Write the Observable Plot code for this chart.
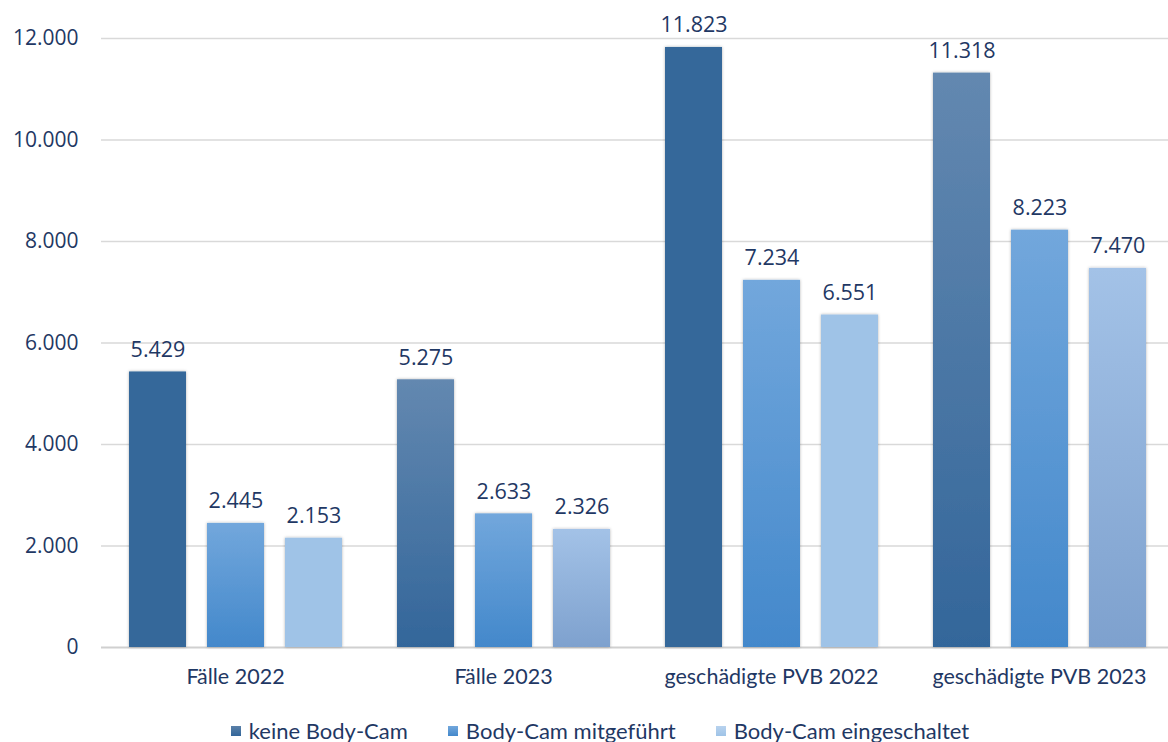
<!DOCTYPE html>
<html>
<head>
<meta charset="utf-8">
<script src="https://cdn.jsdelivr.net/npm/d3@7"></script>
<script src="https://cdn.jsdelivr.net/npm/@observablehq/plot@0.6"></script>
<style>
  html, body { margin: 0; padding: 0; background: #fff; overflow: hidden; }
  #chart { width: 1168px; }
  .legend { display: flex; justify-content: center; height: 42px; align-items: center; padding-top: 19px; box-sizing: border-box;
            font-family: Lato, sans-serif; font-size: 22px; color: #1F3864; margin-left: 32px; }
  .legend .item { display: flex; align-items: center; margin: 0 20px; }
  .legend .sw { width: 10px; height: 10px; margin-right: 8px; }
</style>
</head>
<body>
<div id="chart"></div>
<script>
const groups = ["Fälle 2022", "Fälle 2023", "geschädigte PVB 2022", "geschädigte PVB 2023"];
const series = ["keine Body-Cam", "Body-Cam mitgeführt", "Body-Cam eingeschaltet"];
const keineBodyCam = [5429, 5275, 11823, 11318];
const mitgefuehrt = [2445, 2633, 7234, 8223];
const eingeschaltet = [2153, 2326, 6551, 7470];
const yTicks = [0, 2000, 4000, 6000, 8000, 10000, 12000];

const seriesValues = [keineBodyCam, mitgefuehrt, eingeschaltet];
const data = [];
groups.forEach((g, gi) => series.forEach((s, si) => data.push({group: g, gi, series: s, si, value: seriesValues[si][gi]})));

const de = d3.formatLocale({decimal: ",", thousands: ".", grouping: [3], currency: ["", "€"]});
const fmt = de.format(",d");

// fill styles: 2022 groups use solid dark / light, 2023 groups gradients
function fillFor(d) {
  const is2023 = d.gi % 2 === 1;
  if (d.si === 0) return is2023 ? "url(#gDark)" : "#35679A";
  if (d.si === 1) return "url(#gMid)";
  return is2023 ? "url(#gLight)" : "#9FC3E7";
}

const textColor = "#1F3864";

function defsMark() {
  const defs = d3.create("svg:defs");
  const grads = [
    ["gDark", "#6388B0", "#33669A"],
    ["gMid", "#72A7DC", "#4388CB"],
    ["gLight", "#A3C2E7", "#7EA1CE"]
  ];
  for (const [id, top, bot] of grads) {
    const lg = defs.append("linearGradient").attr("id", id).attr("x1", 0).attr("y1", 0).attr("x2", 0).attr("y2", 1);
    lg.append("stop").attr("offset", "0%").attr("stop-color", top);
    lg.append("stop").attr("offset", "100%").attr("stop-color", bot);
  }
  const f = defs.append("filter").attr("id", "shadow").attr("x", "-20%").attr("y", "-5%").attr("width", "140%").attr("height", "110%");
  f.append("feDropShadow").attr("dx", 0).attr("dy", 0).attr("stdDeviation", 1.5).attr("flood-color", "#000").attr("flood-opacity", 0.3);
  return defs.node();
}

const plot = Plot.plot({
  width: 1168,
  height: 700,
  marginLeft: 100,
  marginRight: 0,
  marginTop: 38,
  marginBottom: 53,
  style: {fontFamily: "'Open Sans', sans-serif", color: textColor, background: "#fff"},
  fx: {domain: groups, padding: 0, label: null, range: [100, 1174]},
  x: {domain: series, paddingInner: 0.27, paddingOuter: 0.345, axis: null},
  y: {domain: [0, 12000], axis: null},
  color: {type: "identity"},
  marks: [
    defsMark,
    Plot.ruleY(yTicks.filter(t => t > 0), {stroke: "#D9D9D9", strokeWidth: 1.5}),
    Plot.ruleY([0], {stroke: "#D0D0D0", strokeWidth: 2}),
    Plot.barY(data, {fx: "group", x: "series", y: "value", fill: fillFor}),
    Plot.text(data, {fx: "group", x: "series", y: "value", text: d => fmt(d.value), lineAnchor: "bottom", dy: -15,
      fontSize: 21.5, fill: textColor, fontFamily: "'Open Sans', sans-serif"}),
    Plot.axisY({ticks: yTicks, tickFormat: d => fmt(d), tickSize: 0, tickPadding: 23, fontSize: 21, label: null,
      fill: textColor, fontFamily: "'Open Sans', sans-serif"}),
    Plot.axisFx({anchor: "bottom", tickSize: 0, tickPadding: 21, fontSize: 21.5, label: null, fill: textColor,
      fontFamily: "Lato, sans-serif"})
  ]
});

// shadow on bars
d3.select(plot).selectAll("g[aria-label='bar'] rect").attr("filter", "url(#shadow)");

document.getElementById("chart").appendChild(plot);

// legend
const legendFills = ["linear-gradient(#5A80A8,#33669A)", "linear-gradient(#72A7DC,#4388CB)", "linear-gradient(#B8D2EE,#9FC3E7)"];
const legend = d3.select("#chart").append("div").attr("class", "legend");
series.forEach((s, i) => {
  const it = legend.append("div").attr("class", "item");
  it.append("div").attr("class", "sw").style("background", legendFills[i]);
  it.append("span").text(s);
});
</script>
</body>
</html>
